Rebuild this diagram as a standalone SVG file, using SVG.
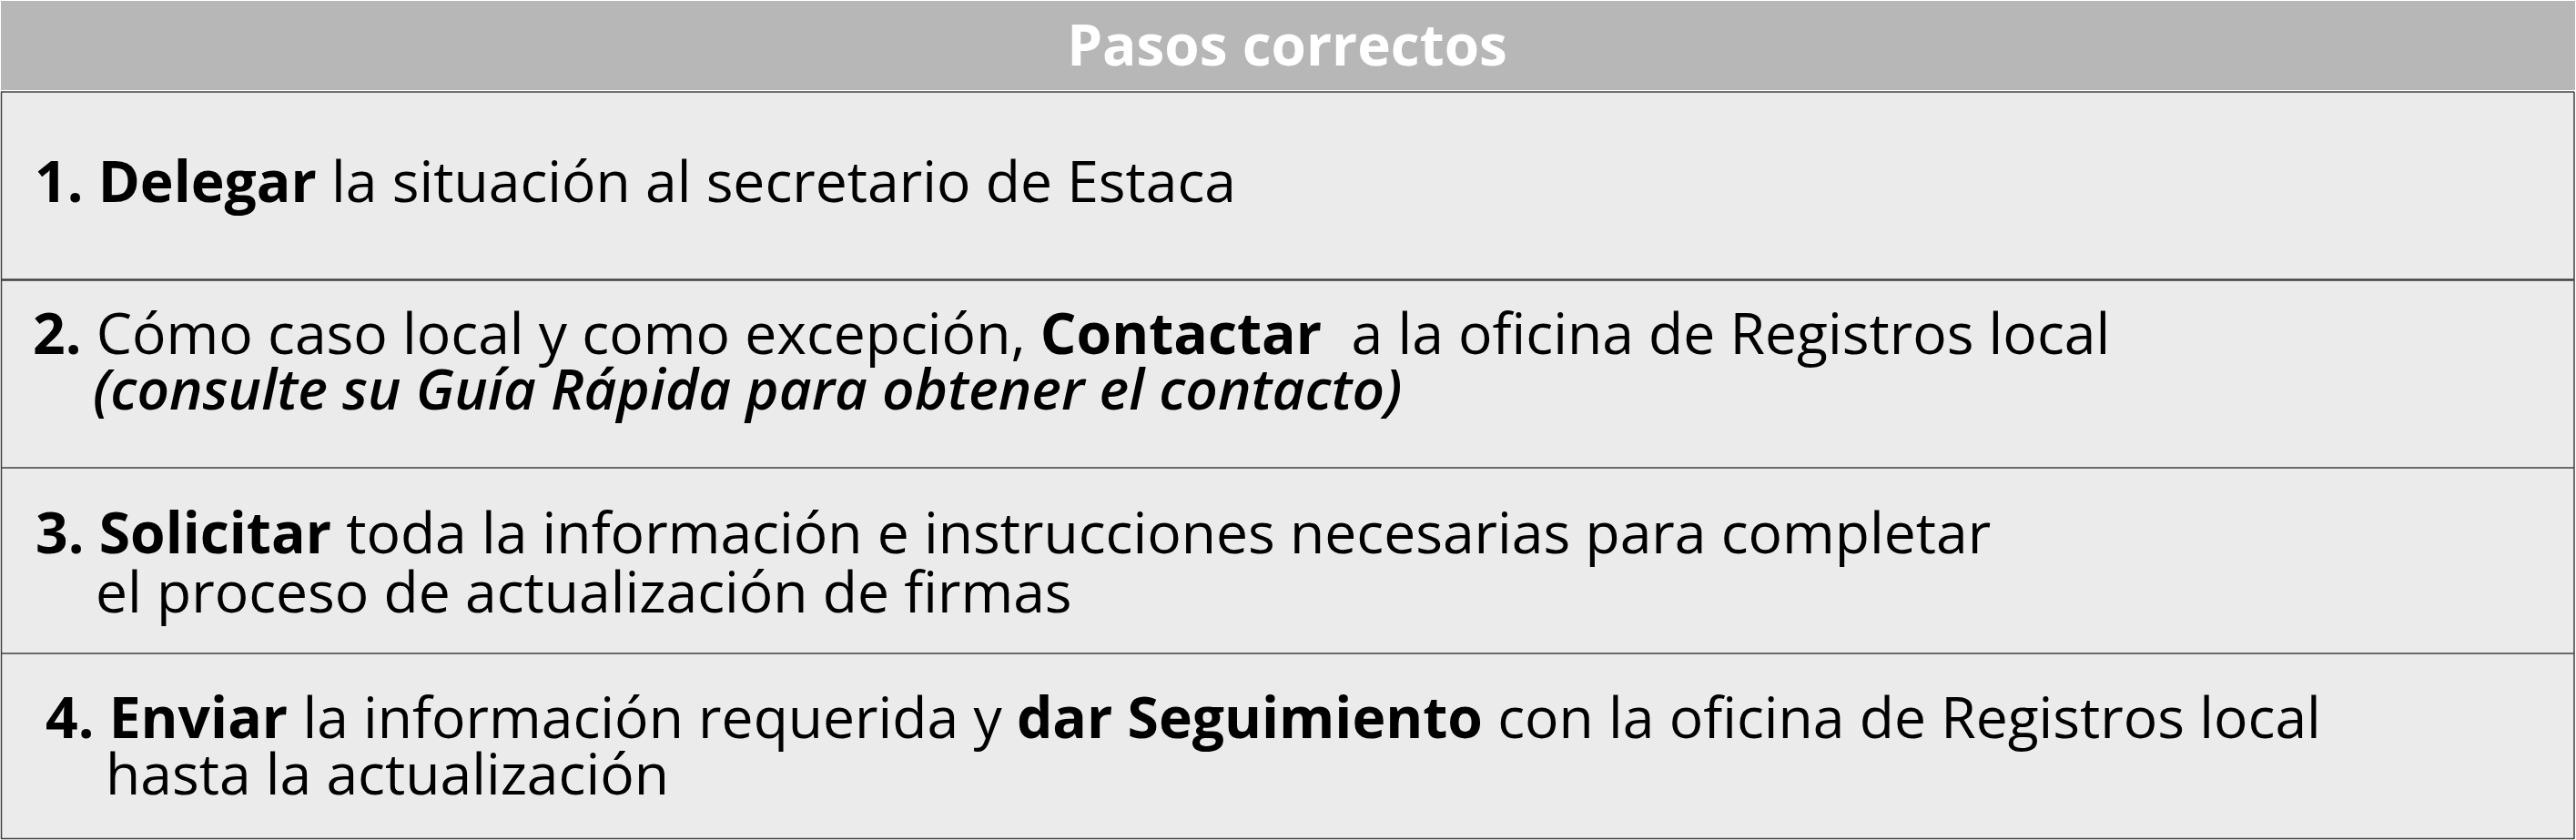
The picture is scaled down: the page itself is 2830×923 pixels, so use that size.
<svg xmlns="http://www.w3.org/2000/svg" width="2830" height="923" viewBox="0 0 2830 923">
<style>
.row{fill:#ebebeb;}
.ln{stroke:#404040;fill:none;}
.t{font-family:"Open Sans","Noto Sans",sans-serif;font-size:62.4px;fill:#000;}
.b{font-weight:bold;}
.i{font-style:italic;font-weight:600;font-size:62px;}
.h{font-family:"Open Sans","Noto Sans",sans-serif;font-size:62px;font-weight:bold;fill:#fff;}
</style>
<rect x="0" y="0" width="2830" height="923" fill="#ffffff"/>
<g id="header">
<rect x="1" y="1" width="2828" height="98" fill="#b7b7b7"/>
<text class="h" x="1414" y="72" text-anchor="middle">Pasos correctos</text>
</g>
<g id="step1">
<rect class="row" x="1" y="101" width="2827" height="206"/>
<text class="t" x="38" y="222"><tspan class="b">1. Delegar</tspan> la situación al secretario de Estaca</text>
</g>
<g id="step2">
<rect class="row" x="1" y="307" width="2827" height="207"/>
<text class="t" x="36" y="389" xml:space="preserve"><tspan class="b">2.</tspan> Cómo caso local y como excepción, <tspan class="b">Contactar</tspan>  a la oficina de Registros local</text>
<text class="t i" x="102" y="450">(consulte su Guía Rápida para obtener el contacto)</text>
</g>
<g id="step3">
<rect class="row" x="1" y="514" width="2827" height="204"/>
<text class="t" x="39" y="608"><tspan class="b">3. Solicitar</tspan> toda la información e instrucciones necesarias para completar</text>
<text class="t" x="105" y="673">el proceso de actualización de firmas</text>
</g>
<g id="step4">
<rect class="row" x="1" y="718" width="2827" height="203"/>
<text class="t" x="50" y="811"><tspan class="b">4. Enviar</tspan> la información requerida y <tspan class="b">dar Seguimiento</tspan> con la oficina de Registros local</text>
<text class="t" x="116" y="873">hasta la actualización</text>
</g>
<g id="connectors">
<line class="ln" x1="1" y1="101" x2="2828" y2="101" stroke-width="1.5"/>
<line class="ln" x1="1" y1="307.5" x2="2828" y2="307.5" stroke-width="2.5"/>
<line class="ln" x1="1" y1="514" x2="2828" y2="514" stroke-width="1.5"/>
<line class="ln" x1="1" y1="718" x2="2828" y2="718" stroke-width="1.5"/>
<line class="ln" x1="1" y1="921.5" x2="2828" y2="921.5" stroke-width="1.5"/>
<line class="ln" x1="1.5" y1="101" x2="1.5" y2="922" stroke-width="1.5"/>
<line class="ln" x1="2828" y1="101" x2="2828" y2="922" stroke-width="1.5"/>
</g>
</svg>
